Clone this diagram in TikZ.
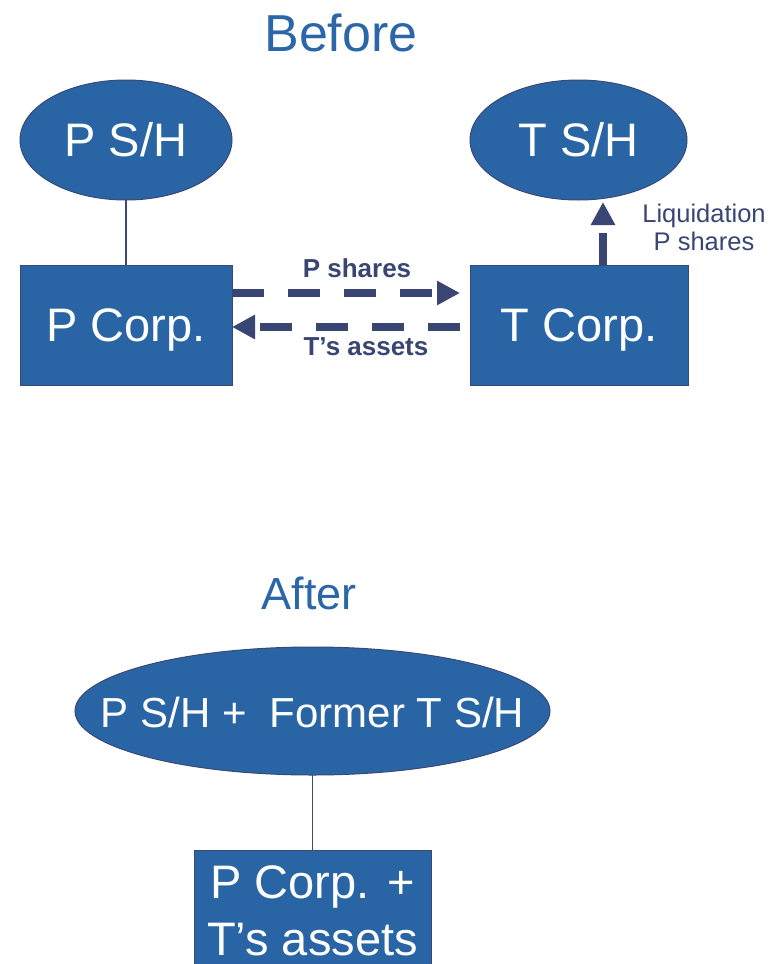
\documentclass[tikz,border=0pt]{standalone}
\usepackage{fontspec}
\setmainfont{Liberation Sans}
\usetikzlibrary{shapes.geometric,arrows.meta}
\definecolor{boxblue}{RGB}{41,101,165}
\definecolor{edgenavy}{RGB}{58,72,118}
\definecolor{flownavy}{RGB}{57,69,114}
\definecolor{titleblue}{RGB}{42,102,168}
\tikzset{
  blob/.style={fill=boxblue, draw=edgenavy, line width=1pt, text=white,
    font=\fontsize{47}{56}\selectfont, text height=33.6pt, text depth=0pt,
    inner sep=0pt, outer sep=0pt},
  holder/.style={blob, ellipse},
  corp/.style={blob, rectangle},
  inside/.style={text=white, anchor=base, inner sep=0pt},
  link/.style={draw=edgenavy, line width=1.2pt},
  flow/.style={draw=flownavy, line width=8pt, dash pattern=on 32pt off 24pt,
    -{Triangle[length=23pt,width=23pt]}},
  heading/.style={text=titleblue, anchor=base, inner sep=0pt},
  flowlabel/.style={text=flownavy, anchor=base, inner sep=0pt},
}
\begin{document}
\begin{tikzpicture}[x=1pt,y=-1pt]
\useasboundingbox (0,0) rectangle (769,964);
\clip (0,0) rectangle (769,964);

% Before
\node[heading, font=\fontsize{52}{62}\selectfont] (before) at (341,51) {Before};

\node[holder, minimum width=212pt, minimum height=120pt] (psh) at (126,140) {P S/H};
\node[holder, minimum width=217pt, minimum height=120pt] (tsh) at (578.5,140) {T S/H};
\node[corp, minimum width=212pt, minimum height=120pt] (pcorp) at (126,325) {P Corp.};
\node[corp, minimum width=218pt, minimum height=120pt] (tcorp) at (579,325) {T Corp.};

\draw[link] (psh) -- (pcorp);

\draw[flow] ([yshift=32pt]pcorp.east) -- ([shift={(-10pt,32pt)}]tcorp.west);
\draw[flow] ([shift={(-10pt,-2pt)}]tcorp.west) -- ([yshift=-2pt]pcorp.east);
\draw[flow] ([xshift=24pt]tcorp.north) -- ([shift={(24.5pt,-2pt)}]tsh.south);

\node[flowlabel, font=\bfseries\fontsize{26}{31}\selectfont] (lblp) at (357,277) {P shares};
\node[flowlabel, font=\bfseries\fontsize{26}{31}\selectfont] (lblt) at (366,355) {T’s assets};
\node[flowlabel, font=\fontsize{25.5}{30}\selectfont] (lblliq) at (704,222) {Liquidation};
\node[flowlabel, font=\fontsize{25.5}{30}\selectfont] (lblps) at (704,250) {P shares};

% After
\node[heading, font=\fontsize{45}{54}\selectfont] (after) at (309,609) {After};

\node[holder, minimum width=475pt, minimum height=128pt] (all) at (312.5,711) {};
\node[inside, font=\fontsize{42}{50}\selectfont] (alltext) at (312.5,727) {P S/H +\ \ Former T S/H};
\node[corp, minimum width=237pt, minimum height=170pt] (merged) at (312.5,935) {};
\node[inside, font=\fontsize{47}{56}\selectfont] (m1) at (312.5,898) {P Corp. +};
\node[inside, font=\fontsize{47}{56}\selectfont] (m2) at (312.5,955) {T’s assets};

\draw[link] (all) -- (merged);
\end{tikzpicture}
\end{document}
